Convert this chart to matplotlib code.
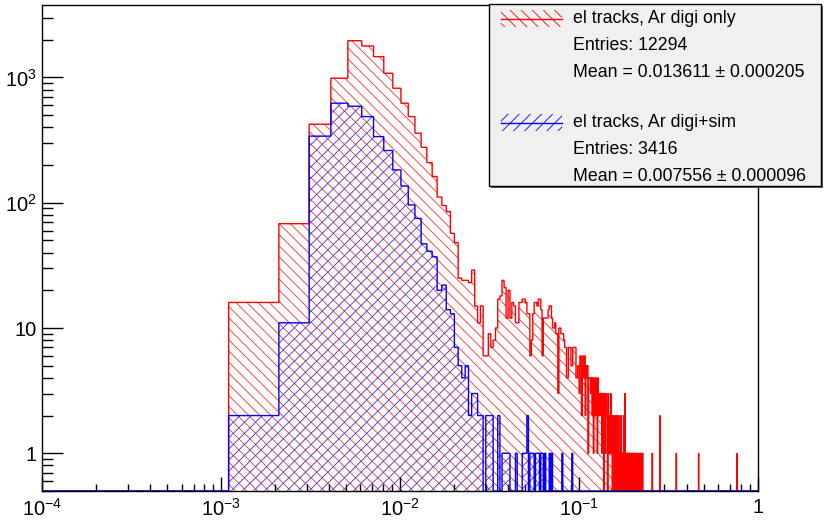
import numpy as np
import matplotlib
matplotlib.use("Agg")
import matplotlib.pyplot as plt
from matplotlib.patches import Rectangle
from matplotlib.ticker import LogLocator, FixedLocator, FixedFormatter, NullFormatter

plt.rcParams['font.family'] = ['Liberation Sans', 'DejaVu Sans']
plt.rcParams['mathtext.fontset'] = 'custom'
plt.rcParams['mathtext.rm'] = 'Liberation Sans'
plt.rcParams['mathtext.it'] = 'Liberation Sans:italic'
plt.rcParams['mathtext.bf'] = 'Liberation Sans:bold'
plt.rcParams['hatch.linewidth'] = 0.6

# histogram binning: 1000 equal-width bins
N_BINS = 1000
X_LO, X_HI = 1e-4, 1.0
Y_MIN, Y_MAX = 0.5, 3786.0

# "el tracks, Ar digi only" bin contents, bin index 0..229
red_counts = [
    0, 16, 68, 423, 986, 1965, 1783, 1466, 1080, 820,
    623, 487, 359, 277, 209, 162, 111, 95, 85, 57,
    48, 25, 24, 24, 23, 29, 15, 11, 15, 6,
    6, 9, 7, 8, 10, 17, 18, 24, 21, 12,
    20, 12, 16, 15, 11, 11, 16, 16, 17, 17,
    16, 13, 13, 6, 8, 13, 16, 16, 15, 17,
    17, 14, 6, 12, 12, 12, 12, 14, 15, 15,
    12, 10, 10, 11, 9, 9, 3, 10, 10, 9,
    9, 9, 8, 7, 7, 4, 4, 7, 7, 7,
    5, 5, 7, 7, 7, 7, 4, 4, 5, 5,
    3, 6, 5, 2, 6, 5, 4, 6, 2, 5,
    4, 5, 1, 4, 4, 4, 3, 4, 2, 4,
    1, 3, 4, 2, 4, 3, 1, 4, 2, 3,
    2, 3, 2, 3, 1, 3, 2, 0, 3, 2,
    1, 3, 2, 2, 0, 3, 1, 2, 2, 1,
    3, 2, 1, 0, 2, 1, 1, 0, 2, 1,
    0, 1, 2, 1, 0, 1, 2, 0, 1, 1,
    0, 2, 1, 0, 1, 0, 1, 2, 0, 1,
    3, 1, 0, 1, 1, 0, 1, 0, 1, 0,
    1, 0, 1, 1, 0, 0, 1, 0, 1, 0,
    0, 1, 0, 1, 0, 0, 0, 1, 0, 0,
    0, 1, 0, 0, 1, 0, 0, 0, 0, 1,
    0, 1, 0, 0, 0, 0, 1, 0, 0, 0,
]
# isolated entries further out in the tail: bin index -> content
red_tail_bins = [256, 282, 349, 465, 764]
red_tail_counts = [1, 2, 1, 1, 1]

# "el tracks, Ar digi+sim" bin contents, bin index 0..91
blue_counts = [
    0, 2, 11, 340, 623, 589, 487, 337, 261, 183,
    136, 96, 75, 47, 41, 37, 20, 22, 14, 13,
    7, 5, 4, 5, 2, 3, 3, 2, 2, 0,
    2, 2, 2, 0, 0, 2, 0, 1, 1, 1,
    1, 0, 0, 0, 1, 0, 0, 0, 1, 1,
    1, 2, 0, 1, 1, 1, 0, 1, 1, 1,
    0, 1, 1, 0, 1, 0, 0, 0, 1, 0,
    1, 0, 0, 0, 0, 0, 0, 0, 0, 0,
    1, 0, 0, 0, 0, 0, 0, 0, 0, 0,
    0, 1,
]

red_label = "el tracks, Ar digi only"
red_entries = 12294
red_mean, red_mean_err = 0.013611, 0.000205
blue_label = "el tracks, Ar digi+sim"
blue_entries = 3416
blue_mean, blue_mean_err = 0.007556, 0.000096

x_tick_values = [1e-4, 1e-3, 1e-2, 1e-1, 1.0]
x_tick_labels = [r"$\mathregular{10^{-4}}$", r"$\mathregular{10^{-3}}$",
                 r"$\mathregular{10^{-2}}$", r"$\mathregular{10^{-1}}$", "1"]
y_tick_values = [1.0, 10.0, 100.0, 1000.0]
y_tick_labels = ["1", "10", r"$\mathregular{10^{2}}$", r"$\mathregular{10^{3}}$"]


def full_hist(counts, tail_bins=(), tail_counts=()):
    h = np.zeros(N_BINS)
    h[:len(counts)] = counts
    for b, c in zip(tail_bins, tail_counts):
        h[b] = c
    return h


edges = np.linspace(X_LO, X_HI, N_BINS + 1)
red = full_hist(red_counts, red_tail_bins, red_tail_counts)
blue = full_hist(blue_counts)
# empty bins sit on the lower frame edge of the log axis
red_draw = np.where(red > 0, red, Y_MIN)
blue_draw = np.where(blue > 0, blue, Y_MIN)

W, H = 825, 521
fig = plt.figure(figsize=(W / 100, H / 100), dpi=100)
ax_l, ax_r, ax_b, ax_t = 42.3, 758.0, 491.0, 5.0
ax = fig.add_axes([ax_l / W, (H - ax_b) / H, (ax_r - ax_l) / W, (ax_b - ax_t) / H])
ax.set_xscale('log')
ax.set_yscale('log')
ax.set_xlim(X_LO, X_HI)
ax.set_ylim(Y_MIN, Y_MAX)

hatch_red = '\\' * 3
hatch_blue = '/' * 3
ax.stairs(red_draw, edges, baseline=Y_MIN, fill=True, facecolor='none',
          edgecolor='#ff3030', hatch=hatch_red, linewidth=0, zorder=1)
ax.stairs(red_draw, edges, baseline=Y_MIN, color='#ff0000', linewidth=1.0, zorder=2)
ax.stairs(blue_draw, edges, baseline=Y_MIN, fill=True, facecolor='none',
          edgecolor='#3030ff', hatch=hatch_blue, linewidth=0, zorder=3)
ax.stairs(blue_draw, edges, baseline=Y_MIN, color='#0000ff', linewidth=1.0, zorder=4)

# axes styling
for s in ax.spines.values():
    s.set_linewidth(1.0)
    s.set_color('black')
ax.xaxis.set_major_locator(FixedLocator(x_tick_values))
ax.xaxis.set_major_formatter(FixedFormatter(x_tick_labels))
ax.xaxis.set_minor_locator(LogLocator(base=10, subs=np.arange(2, 10), numticks=20))
ax.xaxis.set_minor_formatter(NullFormatter())
ax.yaxis.set_major_locator(FixedLocator(y_tick_values))
ax.yaxis.set_major_formatter(FixedFormatter(y_tick_labels))
ax.yaxis.set_minor_locator(LogLocator(base=10, subs=np.arange(2, 10), numticks=20))
ax.yaxis.set_minor_formatter(NullFormatter())
ax.tick_params(axis='both', which='both', direction='in', top=False, right=False,
               labelsize=14.5, width=1.0, color='black')
ax.tick_params(axis='x', which='major', length=10, pad=5)
ax.tick_params(axis='x', which='minor', length=5)
ax.tick_params(axis='y', which='major', length=15, pad=4)
ax.tick_params(axis='y', which='minor', length=7.7)

# stats legend box, drawn in pixel coordinates
ov = fig.add_axes([0, 0, 1, 1], zorder=10)
ov.set_xlim(0, W)
ov.set_ylim(H, 0)
ov.axis('off')
bx0, by0, bx1, by1 = 488.5, 4.0, 821.0, 186.0
ov.add_patch(Rectangle((bx0 + 2, by0 + 2), bx1 - bx0, by1 - by0,
                       facecolor='#606060', edgecolor='none'))
ov.add_patch(Rectangle((bx0, by0), bx1 - bx0, by1 - by0,
                       facecolor='#f0f0f0', edgecolor='black', linewidth=1.0))

txt_x = 573
fs = 12.8
entries_block = [
    (red_label, red_entries, red_mean, red_mean_err, '#ff0000', hatch_red, 18.5),
    (blue_label, blue_entries, blue_mean, blue_mean_err, '#0000ff', hatch_blue, 122.5),
]
for label, n, mean, err, col, hatch, yc in entries_block:
    ov.add_patch(Rectangle((500.5, yc - 8.5), 61, 17, facecolor='none',
                           edgecolor=col, hatch=hatch, linewidth=0))
    ov.plot([500.5, 561.5], [yc, yc], color=col, linewidth=1.0)
    ov.text(txt_x, yc, label, fontsize=fs, va='center', ha='left')
    ov.text(txt_x, yc + 27, f"Entries: {n}", fontsize=fs, va='center', ha='left')
    ov.text(txt_x, yc + 54, f"Mean = {mean:.6f} \u00b1 {err:.6f}",
            fontsize=fs, va='center', ha='left')

fig.savefig("out.png", dpi=100)
